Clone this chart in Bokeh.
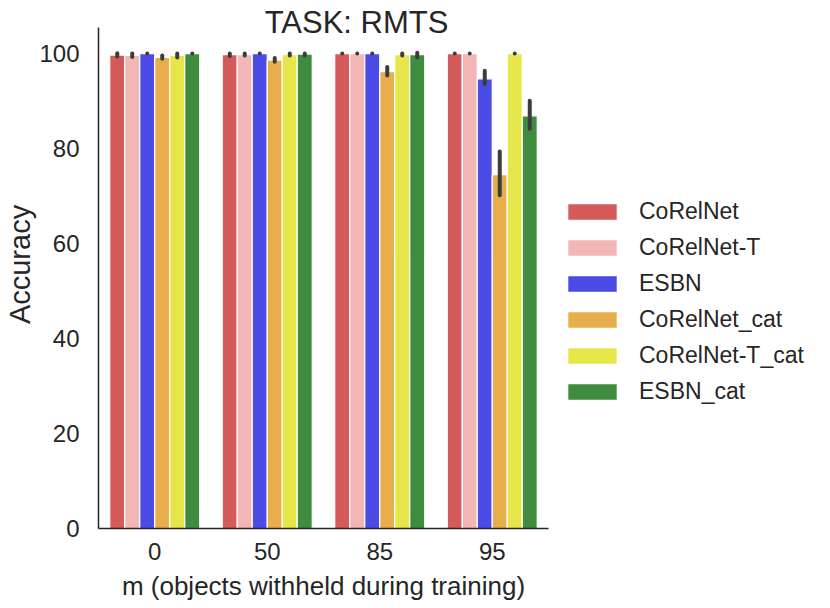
from bokeh.plotting import figure
from bokeh.models import (ColumnDataSource, FactorRange, Range1d, Legend, LegendItem,
                          Label, FixedTicker)
from bokeh.transform import dodge
from bokeh.embed import file_html
from bokeh.resources import INLINE

# ---------------- data ----------------
groups = ["0", "50", "85", "95"]
models = ["CoRelNet", "CoRelNet-T", "ESBN", "CoRelNet_cat", "CoRelNet-T_cat", "ESBN_cat"]
colors = ["#d55a5a", "#f3b6b6", "#4b4be6", "#e8ae4c", "#e6e64a", "#3f8c3f"]

acc_CoRelNet = [99.7, 99.8, 100.0, 100.0]
acc_CoRelNet_T = [99.6, 99.8, 100.0, 100.0]
acc_ESBN = [100.0, 100.0, 100.0, 94.7]
acc_CoRelNet_cat = [99.2, 98.6, 96.2, 74.5]
acc_CoRelNet_T_cat = [99.6, 99.8, 99.8, 100.0]
acc_ESBN_cat = [100.0, 99.9, 99.8, 86.9]

lo_CoRelNet = [99.4, 99.5, 100.0, 100.0]
hi_CoRelNet = [100.1, 100.0, 100.0, 100.0]
lo_CoRelNet_T = [99.3, 99.6, 100.0, 100.0]
hi_CoRelNet_T = [100.0, 100.0, 100.0, 100.0]
lo_ESBN = [100.0, 100.0, 100.0, 93.6]
hi_ESBN = [100.0, 100.0, 100.0, 96.4]
lo_CoRelNet_cat = [98.9, 98.3, 95.4, 70.2]
hi_CoRelNet_cat = [99.6, 99.1, 97.2, 79.4]
lo_CoRelNet_T_cat = [99.2, 99.6, 99.6, 100.0]
hi_CoRelNet_T_cat = [100.0, 100.0, 100.0, 100.0]
lo_ESBN_cat = [100.0, 99.6, 99.2, 84.2]
hi_ESBN_cat = [100.0, 100.0, 100.2, 90.1]

y_ticks = [0, 20, 40, 60, 80, 100]
y_axis_top = 105.5

accs = [acc_CoRelNet, acc_CoRelNet_T, acc_ESBN, acc_CoRelNet_cat, acc_CoRelNet_T_cat, acc_ESBN_cat]
los = [lo_CoRelNet, lo_CoRelNet_T, lo_ESBN, lo_CoRelNet_cat, lo_CoRelNet_T_cat, lo_ESBN_cat]
his = [hi_CoRelNet, hi_CoRelNet_T, hi_ESBN, hi_CoRelNet_cat, hi_CoRelNet_T_cat, hi_ESBN_cat]

FONT = "Liberation Sans"
TXT = "#262626"

FRAME_H = 528
p = figure(x_range=FactorRange(factors=groups, range_padding=0),
           y_range=Range1d(0, y_axis_top * FRAME_H / 501.0),
           frame_width=450, frame_height=FRAME_H,
           min_border_left=98, min_border_top=0, min_border_bottom=64, min_border_right=266,
           output_backend="svg", toolbar_location=None, title=None)

n = len(models)
bw = 0.8 / n
items = []
for i, (m, c) in enumerate(zip(models, colors)):
    off = (i - (n - 1) / 2) * bw
    src = ColumnDataSource(dict(x=groups, top=accs[i], lo=los[i], hi=his[i]))
    r = p.vbar(x=dodge("x", off, range=p.x_range), top="top", width=bw, source=src,
               fill_color=c, line_color="white", line_width=1.2)
    p.segment(x0=dodge("x", off, range=p.x_range), y0="lo",
              x1=dodge("x", off, range=p.x_range), y1="hi", source=src,
              line_color="#3c3c3c", line_width=4, line_cap="round")
    items.append(LegendItem(label=m, renderers=[r]))

p.xgrid.visible = False
p.ygrid.visible = False
p.outline_line_color = None

p.yaxis.ticker = FixedTicker(ticks=y_ticks)
p.yaxis.bounds = (0, y_axis_top)
for ax in (p.xaxis[0], p.yaxis[0]):
    ax.axis_line_color = "#262626"
    ax.axis_line_width = 1.5
    ax.major_tick_line_color = None
    ax.minor_tick_line_color = None
    ax.major_tick_out = 0
    ax.major_tick_in = 0
    ax.minor_tick_out = 0
    ax.major_label_text_font = FONT
    ax.major_label_text_font_size = "24px"
    ax.major_label_text_color = TXT
    ax.axis_label_text_font = FONT
    ax.axis_label_text_font_style = "normal"
    ax.axis_label_text_color = TXT

p.yaxis.axis_label = "Accuracy"
p.yaxis.axis_label_text_font_size = "29px"
p.yaxis.major_label_standoff = 19
p.yaxis.axis_label_standoff = 0
p.xaxis.axis_label = "m (objects withheld during training)"
p.xaxis.axis_label_text_font_size = "26px"
p.xaxis.major_label_standoff = 14
p.xaxis.axis_label_standoff = 8
p.xaxis.group_text_font_size = "0px"

legend = Legend(items=items, location=(13, 123), orientation="vertical",
                border_line_color=None, background_fill_alpha=0,
                glyph_width=62, glyph_height=21, label_standoff=16,
                label_height=23, spacing=9, padding=10, margin=0,
                label_text_font=FONT, label_text_font_size="23px", label_text_color=TXT)
p.add_layout(legend, "right")

title = Label(x=258, y=506, x_units="screen", y_units="screen", text="TASK: RMTS",
              text_font=FONT, text_font_size="31px", text_color=TXT,
              text_align="center", text_baseline="alphabetic")
p.add_layout(title)

open("out.html", "w").write(file_html(p, INLINE))
